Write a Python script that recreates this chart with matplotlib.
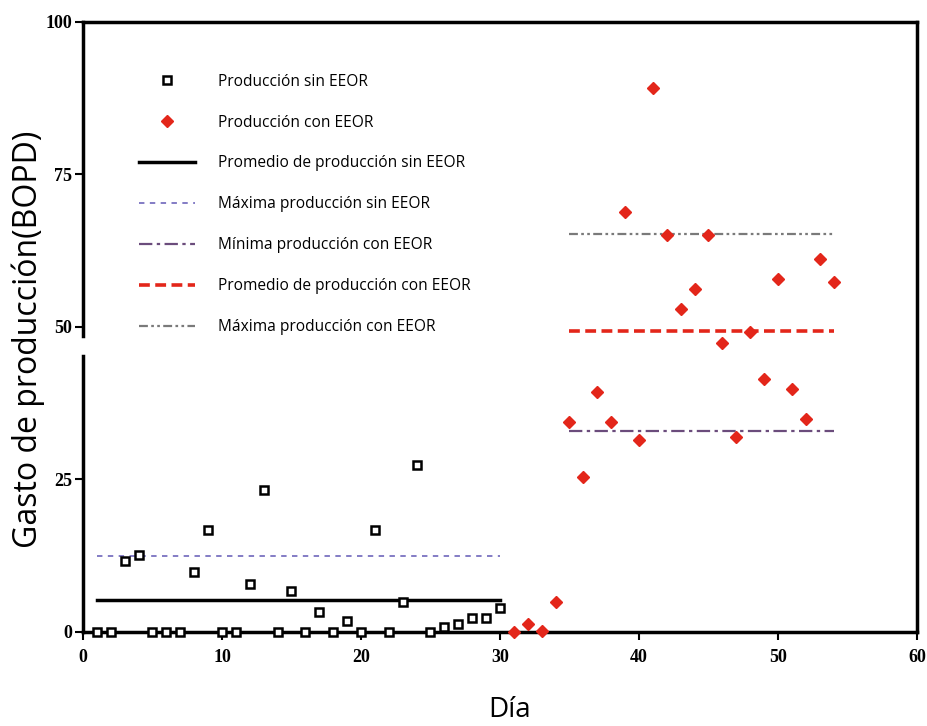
import matplotlib
matplotlib.use("Agg")
import matplotlib.pyplot as plt
import numpy as np

# ---- data ----
days_sin = list(range(1, 31))
prod_sin = [0, 0, 11.7, 12.7, 0, 0, 0, 9.8, 16.7, 0,
            0, 7.8, 23.3, 0, 6.8, 0, 3.3, 0, 1.8, 0,
            16.7, 0, 4.9, 27.4, 0, 0.8, 1.3, 2.3, 2.3, 3.9]
days_con = list(range(31, 55))
prod_con = [0, 1.3, 0.2, 4.9, 34.4, 25.4, 39.3, 34.4, 68.9, 31.5,
            89.1, 65.1, 52.9, 56.3, 65.1, 47.4, 32.0, 49.1, 41.4, 57.9,
            39.8, 34.9, 61.1, 57.4]
prom_sin = 5.3
max_sin = 12.4
min_con = 33.0
prom_con = 49.3
max_con = 65.2
sin_range = [1, 30]
con_range = [35, 54]
xticks = [0, 10, 20, 30, 40, 50, 60]
yticks = [0, 25, 50, 75, 100]

fig = plt.figure(figsize=(9.28, 7.26), dpi=100)
ax = fig.add_axes([0.0894, 0.1295, 0.8987, 0.8402])

red = '#e3261a'
ax.plot(days_sin, prod_sin, linestyle='none', marker='s', markersize=6,
        markerfacecolor='white', markeredgecolor='black', markeredgewidth=1.8,
        clip_on=False, zorder=5, label='Producción sin EEOR')
ax.plot(days_con, prod_con, linestyle='none', marker='D', markersize=6,
        color=red, clip_on=False, zorder=5, label='Producción con EEOR')
ax.plot(sin_range, [prom_sin]*2, color='black', lw=2.5,
        label='Promedio de producción sin EEOR')
ax.plot(sin_range, [max_sin]*2, color='#7a72c0', lw=1.3, linestyle=(0, (3, 3)),
        label='Máxima producción sin EEOR')
ax.plot(con_range, [min_con]*2, color='#6b4c7c', lw=1.6, linestyle=(0, (6, 2, 1.5, 2)),
        label='Mínima producción con EEOR')
ax.plot(con_range, [prom_con]*2, color=red, lw=2.6, linestyle=(0, (3, 1.5)),
        label='Promedio de producción con EEOR')
ax.plot(con_range, [max_con]*2, color='#7a7a7a', lw=1.6,
        linestyle=(0, (4, 1.5, 1.2, 1.5, 1.2, 1.5)),
        label='Máxima producción con EEOR')

ax.set_xlim(0, 60)
ax.set_ylim(0, 100)
ax.set_xticks(xticks)
ax.set_yticks(yticks)
for s in ['top', 'right', 'bottom']:
    ax.spines[s].set_linewidth(2.5)
ax.spines['left'].set_visible(False)
# broken left axis
ax.plot([0, 0], [0, 45.3], color='black', lw=2.5, clip_on=False, zorder=6)
ax.plot([0, 0], [48.6, 100], color='black', lw=2.5, clip_on=False, zorder=6)

ax.tick_params(axis='both', direction='out', length=6, width=1.5, labelsize=13)
ax.tick_params(axis='x', pad=6)
ax.tick_params(axis='y', pad=2)
for lbl in ax.get_xticklabels() + ax.get_yticklabels():
    lbl.set_family('Liberation Serif')
    lbl.set_fontweight('bold')

ax.set_ylabel('Gasto de producción(BOPD)', fontsize=23, family='Open Sans')
ax.yaxis.set_label_coords(-0.045, 0.479)
ax.set_xlabel('Día', fontsize=20, family='Open Sans', labelpad=22)
ax.xaxis.set_label_coords(0.512, -0.105)
ax.xaxis.label.set_va('top')

leg = ax.legend(loc='upper left', bbox_to_anchor=(0.058, 0.928), frameon=False,
                prop={'family': 'Open Sans', 'size': 11.2}, labelspacing=1.6,
                handlelength=3.6, handletextpad=1.5, borderpad=0, numpoints=1)

fig.savefig('out.png', dpi=100)
